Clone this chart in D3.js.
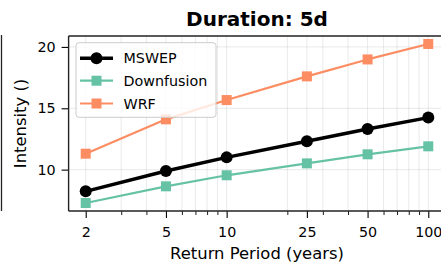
<!DOCTYPE html>
<html><head><meta charset="utf-8">
<script src="https://cdn.jsdelivr.net/npm/d3@7"></script>
<style>body{margin:0;background:#fff}svg{display:block;font-family:"DejaVu Sans",sans-serif}</style>
</head><body><svg id="c" width="441" height="265"></svg>
<script>
const periods = [2, 5, 10, 25, 50, 100];
const xTickLabels = ["2", "5", "10", "25", "50", "100"];
const minorTicks = [3, 4, 6, 7, 8, 9, 20, 30, 40, 60, 70, 80, 90];
const yTicks = [10, 15, 20];
const mswep = [8.23, 9.89, 11.0, 12.31, 13.31, 14.24];
const downfusion = [7.28, 8.64, 9.54, 10.51, 11.25, 11.9];
const wrf = [11.3, 14.1, 15.67, 17.6, 18.98, 20.24];
const seriesNames = ["MSWEP", "Downfusion", "WRF"];

const svg = d3.select("#c");
const L = 68.6, R = 445.4, T = 36, B = 211;
const x = d3.scaleLog().domain([1.645, 121.6]).range([L, R]);
const y = d3.scaleLinear().domain([6.63, 20.89]).range([B, T]);

const series = [
  {name: seriesNames[0], vals: mswep, color: "#000000", shape: "circle", lw: 3.5},
  {name: seriesNames[1], vals: downfusion, color: "#66c2a5", shape: "square", lw: 2.2},
  {name: seriesNames[2], vals: wrf, color: "#fc8d62", shape: "square", lw: 2.2}
];

// left neighbour spine
svg.append("line").attr("x1", 1.5).attr("x2", 1.5).attr("y1", T - 1).attr("y2", B).attr("stroke", "#222").attr("stroke-width", 1.3);

// grid
const g = svg.append("g");
g.selectAll(".vm").data(minorTicks.concat(periods)).enter().append("line")
  .attr("x1", d => x(d)).attr("x2", d => x(d)).attr("y1", T).attr("y2", B)
  .attr("stroke", "#b0b0b0").attr("stroke-opacity", 0.3).attr("stroke-width", 0.9);
g.selectAll(".hm").data(yTicks).enter().append("line")
  .attr("x1", L).attr("x2", R).attr("y1", d => y(d)).attr("y2", d => y(d))
  .attr("stroke", "#b0b0b0").attr("stroke-opacity", 0.3).attr("stroke-width", 0.9);

// lines and markers
const line = d3.line().x((d, i) => x(periods[i])).y(d => y(d));
series.forEach(s => {
  svg.append("path").datum(s.vals).attr("d", line).attr("fill", "none")
    .attr("stroke", s.color).attr("stroke-width", s.lw).attr("stroke-linejoin", "round");
  const m = svg.append("g");
  if (s.shape === "circle") {
    m.selectAll("circle").data(s.vals).enter().append("circle")
      .attr("cx", (d, i) => x(periods[i])).attr("cy", d => y(d)).attr("r", 6).attr("fill", s.color);
  } else {
    m.selectAll("rect").data(s.vals).enter().append("rect")
      .attr("x", (d, i) => x(periods[i]) - 5).attr("y", d => y(d) - 5)
      .attr("width", 10).attr("height", 10).attr("fill", s.color);
  }
});

// axes
const xAxis = d3.axisBottom(x).tickValues(periods).tickFormat((d, i) => xTickLabels[i]).tickSize(7).tickPadding(8.5);
const xg = svg.append("g").attr("transform", `translate(0,${B})`).call(xAxis);
xg.select(".domain").remove();
xg.selectAll("text").attr("font-size", 14.3).attr("fill", "#000").attr("font-family", "DejaVu Sans");
xg.selectAll(".tick line").attr("stroke", "#000").attr("stroke-width", 1.1);
const xm = d3.axisBottom(x).tickValues(minorTicks).tickFormat("").tickSize(4);
const xmg = svg.append("g").attr("transform", `translate(0,${B})`).call(xm);
xmg.select(".domain").remove();
xmg.selectAll(".tick line").attr("stroke", "#000").attr("stroke-width", 0.9);

const yAxis = d3.axisLeft(y).tickValues(yTicks).tickFormat(d3.format("d")).tickSize(7).tickPadding(6);
const yg = svg.append("g").attr("transform", `translate(${L},0)`).call(yAxis);
yg.select(".domain").remove();
yg.selectAll("text").attr("font-size", 14.3).attr("fill", "#000").attr("font-family", "DejaVu Sans");
yg.selectAll(".tick line").attr("stroke", "#000").attr("stroke-width", 1.1);

// spines
svg.append("line").attr("x1", L).attr("x2", L).attr("y1", T).attr("y2", B).attr("stroke", "#222").attr("stroke-width", 1.4);
svg.append("line").attr("x1", L).attr("x2", 441).attr("y1", T).attr("y2", T).attr("stroke", "#222").attr("stroke-width", 1.4);
svg.append("line").attr("x1", L).attr("x2", 441).attr("y1", B).attr("y2", B).attr("stroke", "#222").attr("stroke-width", 1.4);

// legend
const lg = svg.append("g");
lg.append("rect").attr("x", 76).attr("y", 42.7).attr("width", 140).attr("height", 74.6)
  .attr("rx", 3).attr("fill", "#fff").attr("fill-opacity", 0.8).attr("stroke", "#cccccc").attr("stroke-width", 1);
const rowY = [58.3, 80.7, 103.5];
series.forEach((s, i) => {
  const ry = rowY[i];
  lg.append("line").attr("x1", 80).attr("x2", 113).attr("y1", ry).attr("y2", ry)
    .attr("stroke", s.color).attr("stroke-width", s.lw);
  if (s.shape === "circle") lg.append("circle").attr("cx", 96.5).attr("cy", ry).attr("r", 6).attr("fill", s.color);
  else lg.append("rect").attr("x", 91.5).attr("y", ry - 5).attr("width", 10).attr("height", 10).attr("fill", s.color);
  lg.append("text").attr("x", 123.5).attr("y", ry + 5).attr("font-size", 14.3).text(s.name);
});

// title & labels
svg.append("text").attr("x", (L + R) / 2).attr("y", 26).attr("text-anchor", "middle")
  .attr("font-size", 20).attr("font-weight", "bold").text("Duration: 5d");
svg.append("text").attr("x", (L + R) / 2).attr("y", 259).attr("text-anchor", "middle")
  .attr("font-size", 16.4).text("Return Period (years)");
svg.append("text").attr("transform", `translate(25.5,${(T + B) / 2}) rotate(-90)`).attr("text-anchor", "middle")
  .attr("font-size", 16.4).text("Intensity ()");
</script></body></html>
